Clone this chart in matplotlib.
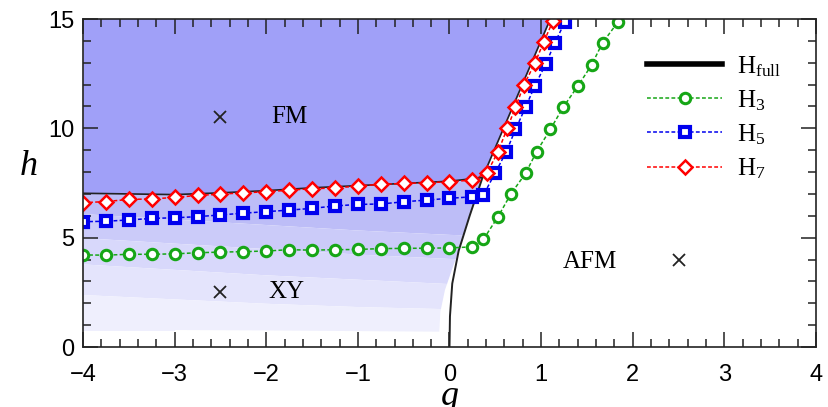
import numpy as np
import matplotlib
matplotlib.use("Agg")
import matplotlib.pyplot as plt
from matplotlib.lines import Line2D
from matplotlib.patches import Polygon
from matplotlib.ticker import MultipleLocator

plt.rcParams['font.family'] = 'Liberation Sans'
plt.rcParams['mathtext.fontset'] = 'custom'
plt.rcParams['mathtext.rm'] = 'Liberation Serif'
plt.rcParams['mathtext.it'] = 'Liberation Serif:italic'

# flat part of the transition lines (g = -4 ... 0.25, step 0.25)
g_flat = [-4.0, -3.75, -3.5, -3.25, -3.0, -2.75, -2.5, -2.25, -2.0, -1.75, -1.5,
          -1.25, -1.0, -0.75, -0.5, -0.25, 0.0, 0.25]
h3_flat = [4.21, 4.20, 4.24, 4.24, 4.26, 4.31, 4.34, 4.36, 4.39, 4.45, 4.43,
           4.45, 4.46, 4.50, 4.51, 4.52, 4.53, 4.58]
h5_flat = [5.73, 5.75, 5.81, 5.88, 5.91, 5.96, 6.04, 6.12, 6.19, 6.26, 6.34,
           6.45, 6.52, 6.54, 6.64, 6.72, 6.80, 6.87]
h7_flat = [6.60, 6.65, 6.75, 6.77, 6.84, 6.93, 6.99, 7.05, 7.10, 7.17, 7.24,
           7.27, 7.36, 7.44, 7.48, 7.51, 7.56, 7.63]

# steep part
g3_steep = [0.37, 0.53, 0.67, 0.83, 0.95, 1.10, 1.24, 1.40, 1.55, 1.67, 1.84]
h3_steep = [4.92, 5.96, 7.0, 7.94, 8.93, 9.95, 10.96, 11.93, 12.89, 13.91, 14.87]
g5_steep = [0.37, 0.50, 0.62, 0.72, 0.83, 0.93, 1.05, 1.15, 1.26]
h5_steep = [6.95, 7.97, 8.93, 9.95, 10.96, 11.93, 12.94, 13.91, 14.87]
g7_steep = [0.41, 0.53, 0.63, 0.72, 0.81, 0.93, 1.03, 1.13]
h7_steep = [7.97, 8.93, 10.0, 10.96, 11.96, 12.97, 13.96, 14.92]

# H_full: FM boundary and XY/AFM boundary
fm_g = [-4.0, -3.0, -2.5, -2.0, -1.5, -1.0, -0.5, 0.0, 0.36, 1.10]
fm_h = [7.03, 6.97, 7.05, 7.15, 7.28, 7.38, 7.48, 7.58, 7.75, 15.0]
afm_g = [0.0, 0.005, 0.03, 0.10, 0.22, 0.36]
afm_h = [0.0, 1.4, 2.9, 4.4, 6.0, 7.75]

# shading bands inside the XY phase
band_g = [-4.0, -3.0, -2.0, -1.0, 0.0, 0.4]
band_edges = [
    [7.03, 6.97, 7.15, 7.38, 7.58, 7.8],
    [6.1, 5.85, 5.6, 5.35, 5.15, 5.1],
    [5.0, 4.75, 4.5, 4.25, 4.05, 4.0],
    [3.8, 3.55, 3.3, 3.1, 2.9, 2.9],
    [2.4, 2.2, 2.0, 1.85, 1.75, 1.75],
    [0.8, 0.8, 0.78, 0.75, 0.72, 0.72],
]
band_colors = ['#bdbdf7', '#cbcbf9', '#d8d8fb', '#e4e4fc', '#efeffd']
edge_g = [0.36, 0.22, 0.12, 0.04, -0.05, -0.10, -0.12]
edge_h = [7.75, 6.0, 4.6, 3.7, 2.6, 1.6, 0.0]

fig = plt.figure(figsize=(8.29, 4.07), dpi=100)
ax = fig.add_axes([83 / 829, 1 - 347 / 407, 733 / 829, 328 / 407])

clip_pts = [(-4.0, 0.0)] + list(zip(fm_g[:-1], fm_h[:-1])) + list(zip(edge_g, edge_h))
clip = Polygon(clip_pts, closed=True, transform=ax.transData, facecolor='none', edgecolor='none')
ax.add_patch(clip)
for i, c in enumerate(band_colors):
    p = ax.fill_between(band_g, band_edges[i + 1], band_edges[i], color=c, lw=0)
    p.set_clip_path(clip)

ax.fill_between(fm_g, fm_h, 15.5, color='#a0a0f8', lw=0)
ax.plot(fm_g, fm_h, color='#222222', lw=1.2)
ax.plot(afm_g, afm_h, color='#222222', lw=1.4)

ls = (0, (2.5, 1.5))
style3 = dict(ls=ls, lw=1.1, color='#16a616', marker='o', ms=7.5, mfc='white', mec='#16a616', mew=2.2)
style5 = dict(ls=ls, lw=1.1, color='#0000ee', marker='s', ms=7, mfc='white', mec='#0000ee', mew=3.0)
style7 = dict(ls=ls, lw=1.1, color='#ff0000', marker='D', ms=7.5, mfc='white', mec='#ff0000', mew=1.8)
ax.plot(np.concatenate([g_flat, g3_steep]), np.concatenate([h3_flat, h3_steep]), **style3)
ax.plot(np.concatenate([g_flat, g5_steep]), np.concatenate([h5_flat, h5_steep]), **style5)
ax.plot(np.concatenate([g_flat, g7_steep]), np.concatenate([h7_flat, h7_steep]), **style7)

# phase labels
serif = 'Liberation Serif'
ax.plot([-2.5, -2.5, 2.5], [10.5, 2.5, 4.0], 'x', color='#222222', ms=8, mew=1.3, ls='none')
ax.text(-1.75, 10.5, 'FM', fontsize=18, family=serif, ha='center', va='center')
ax.text(-1.78, 2.5, 'XY', fontsize=18, family=serif, ha='center', va='center')
ax.text(1.53, 3.9, 'AFM', fontsize=18, family=serif, ha='center', va='center')

ax.set_xlim(-4, 4)
ax.set_ylim(0, 15)
ax.xaxis.set_major_locator(MultipleLocator(1))
ax.xaxis.set_minor_locator(MultipleLocator(0.2))
ax.yaxis.set_major_locator(MultipleLocator(5))
ax.yaxis.set_minor_locator(MultipleLocator(1))
ax.tick_params(which='both', direction='in', top=True, right=True, color='#222222', width=1.1)
ax.tick_params(which='major', length=11, labelsize=17)
ax.tick_params(which='minor', length=6)
ax.tick_params(axis='x', pad=12)
ax.tick_params(axis='y', pad=6)
for s in ax.spines.values():
    s.set_color('#222222')
    s.set_linewidth(1.2)

ax.set_xlabel('$g$', fontsize=26)
ax.xaxis.set_label_coords(0.5, -0.1)
ax.set_ylabel('$h$', fontsize=26, rotation=0)
ax.yaxis.set_label_coords(-0.075, 0.5)

handles = [
    Line2D([], [], color='black', lw=4),
    Line2D([], [], **style3),
    Line2D([], [], **style5),
    Line2D([], [], **style7),
]
labels = [r'H$_{\mathrm{full}}$', r'H$_3$', r'H$_5$', r'H$_7$']
fig.legend(handles, labels, loc='upper left', bbox_to_anchor=(647 / 829, 1 - 54 / 407),
           frameon=False, borderpad=0, borderaxespad=0, handlelength=3.0, handletextpad=0.6,
           labelspacing=0.38, prop={'family': serif, 'size': 18})

fig.savefig('out.png', dpi=100)
